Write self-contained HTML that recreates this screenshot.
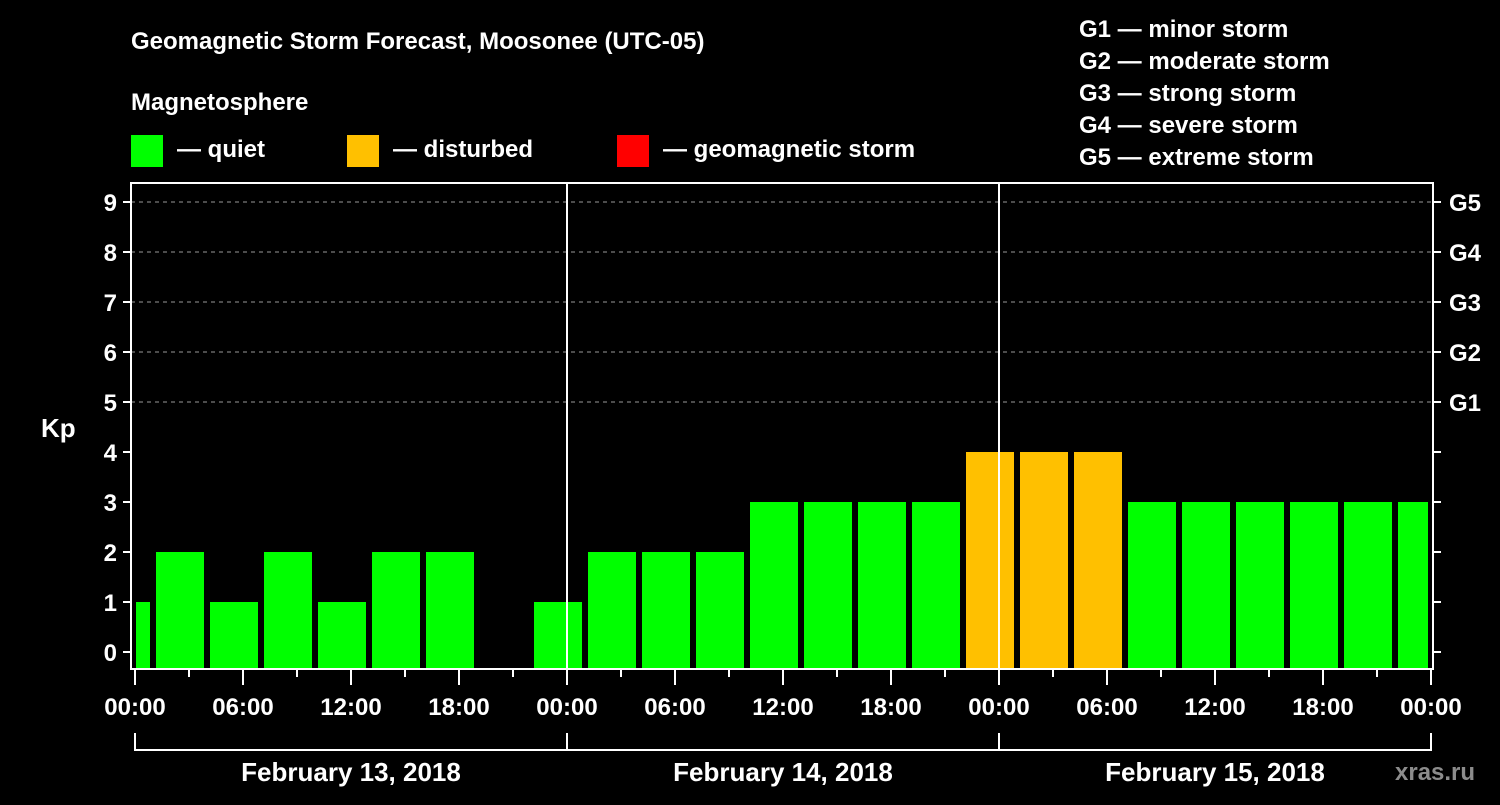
<!DOCTYPE html>
<html><head><meta charset="utf-8"><style>
body{margin:0;background:#000;width:1500px;height:800px;overflow:hidden}
svg text{font-family:"Liberation Sans",sans-serif;font-weight:bold;fill:#fff}
</style></head><body>
<svg id="c" width="1500" height="800" xmlns="http://www.w3.org/2000/svg">
<text x="131" y="49" font-size="24">Geomagnetic Storm Forecast, Moosonee (UTC-05)</text>
<text x="131" y="110" font-size="24">Magnetosphere</text>
<g><rect x="131" y="135" width="32" height="32" fill="#00ff00"/><text x="177" y="157" font-size="24">— quiet</text></g>
<g><rect x="347" y="135" width="32" height="32" fill="#ffc000"/><text x="393" y="157" font-size="24">— disturbed</text></g>
<g><rect x="617" y="135" width="32" height="32" fill="#ff0000"/><text x="663" y="157" font-size="24">— geomagnetic storm</text></g>
<g font-size="24">
<text x="1079" y="37">G1 — minor storm</text><text x="1079" y="69">G2 — moderate storm</text><text x="1079" y="101">G3 — strong storm</text><text x="1079" y="133">G4 — severe storm</text><text x="1079" y="165">G5 — extreme storm</text></g>
<text x="41" y="437" font-size="26">Kp</text>
<text x="1395" y="780" font-size="24" fill="#888" style="fill:#8c8c8c">xras.ru</text>
<g id="grid"></g><g id="bars"></g><g id="axes"></g>
</svg>
<script>
const values=[1,2,1,2,1,2,2,0,1,2,2,2,3,3,3,3,4,4,4,3,3,3,3,3,3];
const yTicks=[0,1,2,3,4,5,6,7,8,9];
const gLabels=["G1","G2","G3","G4","G5"];
const xLabels=["00:00","06:00","12:00","18:00","00:00","06:00","12:00","18:00","00:00","06:00","12:00","18:00","00:00"];
const dayLabels=["February 13, 2018","February 14, 2018","February 15, 2018"];
const NS="http://www.w3.org/2000/svg";
const L=131,R=1433,T=183,B=669,X0=135,HPX=18;
const x=h=>X0+h*HPX; const y=v=>652-v*50;
function mk(t,a,p){const e=document.createElementNS(NS,t);for(const k in a)e.setAttribute(k,a[k]);p.appendChild(e);return e;}
const grid=document.getElementById('grid'),bars=document.getElementById('bars'),ax=document.getElementById('axes');
yTicks.forEach(v=>{if(v>=5){const l=mk('line',{x1:L,x2:R,y1:y(v),y2:y(v),stroke:'#999','stroke-dasharray':'4,4','stroke-width':1},grid);

}
const tl=mk('line',{x1:123,x2:L,y1:y(v),y2:y(v),stroke:'#fff','stroke-width':2},ax);


const tr=mk('line',{x1:R,x2:1441,y1:y(v),y2:y(v),stroke:'#fff','stroke-width':2},ax);


const t=mk('text',{x:117,y:y(v)+9,'font-size':24,'text-anchor':'end'},ax);t.textContent=v;

});
gLabels.forEach((g,i)=>{const t=mk('text',{x:1449,y:y(5+i)+9,'font-size':24},ax);t.textContent=g;

});
values.forEach((v,i)=>{if(v<=0)return;const s=-2+i*3;let x1=x(s)+3,x2=x(s+3)-3;x1=Math.max(x1,136);x2=Math.min(x2,1428);
const c=v>=5?'#ff0000':v>=4?'#ffc000':'#00ff00';
const r=mk('rect',{x:x1,y:y(v),width:x2-x1,height:B-1-y(v),fill:c},bars);

});
[1,2].forEach(d=>{const l=mk('line',{x1:x(24*d),x2:x(24*d),y1:T,y2:B,stroke:'#fff','stroke-width':2},ax);

});
const box=mk('rect',{x:L,y:T,width:R-L,height:B-T,fill:'none',stroke:'#fff','stroke-width':2},ax);


for(let h=0;h<=72;h+=3){const maj=h%6==0;const l=mk('line',{x1:x(h),x2:x(h),y1:B,y2:maj?685:677,stroke:'#fff','stroke-width':2},ax);

}
xLabels.forEach((s,i)=>{const t=mk('text',{x:x(i*6),y:715,'font-size':24,'text-anchor':'middle'},ax);t.textContent=s;

});
const br=mk('line',{x1:x(0),x2:x(72),y1:750,y2:750,stroke:'#fff','stroke-width':2},ax);


for(let d=0;d<=3;d++){const l=mk('line',{x1:x(24*d),x2:x(24*d),y1:733,y2:751,stroke:'#fff','stroke-width':2},ax);

}
dayLabels.forEach((s,i)=>{const t=mk('text',{x:x(24*i+12),y:781,'font-size':26,'text-anchor':'middle'},ax);t.textContent=s;

});
</script>
</body></html>
